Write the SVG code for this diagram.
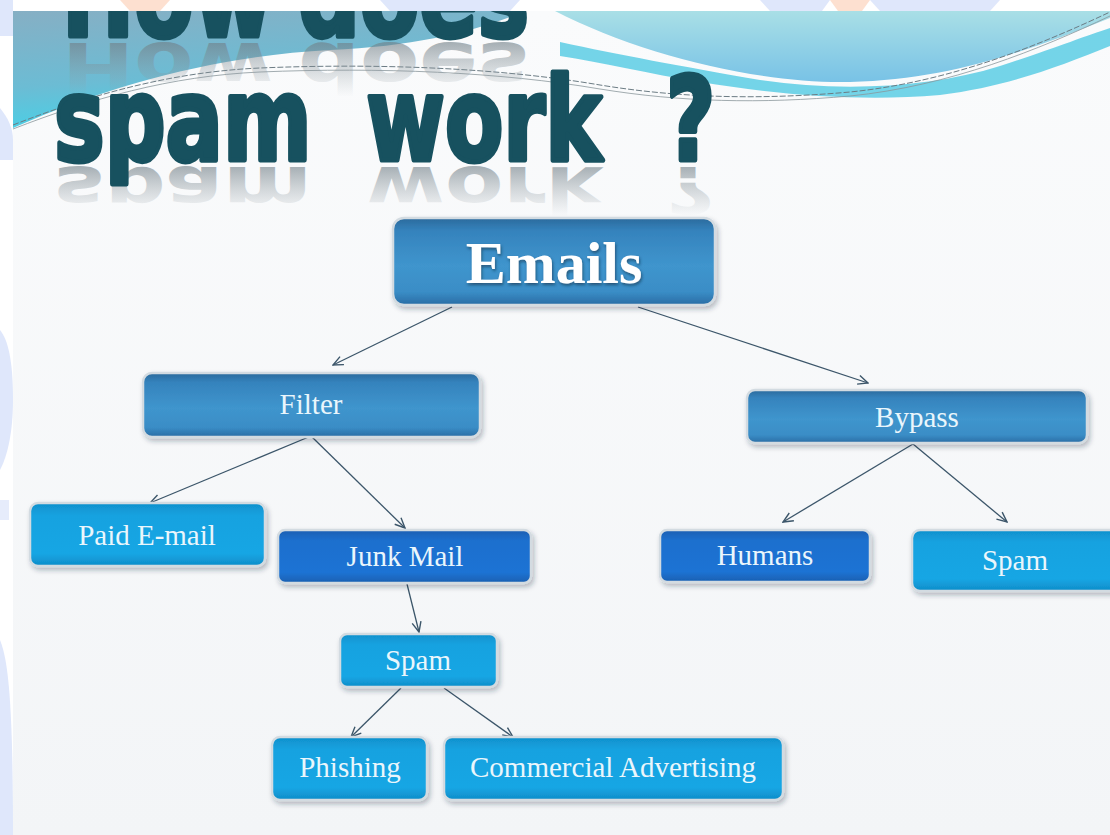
<svg xmlns="http://www.w3.org/2000/svg" width="1110" height="835" viewBox="0 0 1110 835">
<style>
.box{stroke:#d3dbe1;stroke-width:2.5;filter:url(#sh)}
.lbl{font-family:"Liberation Serif",serif;font-size:29px;fill:#eaf6fc;text-anchor:middle}
.big{font-family:"Liberation Serif",serif;font-size:60px;font-weight:bold;fill:#ffffff;text-anchor:middle;filter:url(#tsh)}
.title{font-family:"DejaVu Sans",sans-serif;font-weight:bold;font-size:115px}
.solid{fill:#17515f;stroke:#17515f;stroke-width:5;stroke-linejoin:round}
.refl{stroke:none}
.conn{fill:none;stroke:#3c566a;stroke-width:1.3;marker-end:url(#arr)}
</style>
<defs>
<filter id="sh" x="-10%" y="-20%" width="125%" height="150%">
<feDropShadow dx="2" dy="3" stdDeviation="2.5" flood-color="#203040" flood-opacity="0.3"/>
</filter>
<filter id="tsh" x="-10%" y="-20%" width="120%" height="150%">
<feDropShadow dx="1" dy="2" stdDeviation="1.5" flood-color="#0a2a40" flood-opacity="0.6"/>
</filter>
<marker id="arr" viewBox="0 0 12 12" refX="11" refY="6" markerWidth="12" markerHeight="12" markerUnits="userSpaceOnUse" orient="auto">
<path d="M1,1.5 L11,6 L1,10.5" fill="none" stroke="#3c566a" stroke-width="1.4"/>
</marker>
<linearGradient id="gMid" x1="0" y1="0" x2="0" y2="1">
<stop offset="0" stop-color="#2b6a9c"/>
<stop offset="0.15" stop-color="#3583bd"/>
<stop offset="0.55" stop-color="#3f95cd"/>
<stop offset="0.85" stop-color="#3a8dc6"/>
<stop offset="1" stop-color="#296ca4"/>
</linearGradient>
<linearGradient id="gDark" x1="0" y1="0" x2="0" y2="1">
<stop offset="0" stop-color="#1a5fb2"/>
<stop offset="0.2" stop-color="#1c6fce"/>
<stop offset="0.8" stop-color="#1e73d4"/>
<stop offset="1" stop-color="#185fb0"/>
</linearGradient>
<linearGradient id="gLight" x1="0" y1="0" x2="0" y2="1">
<stop offset="0" stop-color="#1090cc"/>
<stop offset="0.2" stop-color="#15a2e0"/>
<stop offset="0.8" stop-color="#17a6e4"/>
<stop offset="1" stop-color="#0e8cc8"/>
</linearGradient>
<linearGradient id="waveA" x1="0" y1="0" x2="0.3" y2="1">
<stop offset="0" stop-color="#86afc4"/>
<stop offset="0.6" stop-color="#6cbcd4"/>
<stop offset="1" stop-color="#45d2e8"/>
</linearGradient>
<linearGradient id="waveB" x1="0" y1="0" x2="0" y2="1">
<stop offset="0" stop-color="#a9dfe6"/>
<stop offset="1" stop-color="#78c2e6"/>
</linearGradient>
<linearGradient id="bg" x1="0" y1="0" x2="0" y2="1">
<stop offset="0" stop-color="#fafbfc"/>
<stop offset="1" stop-color="#f3f5f7"/>
</linearGradient>
<linearGradient id="refl1" gradientUnits="userSpaceOnUse" x1="0" y1="0" x2="0" y2="-90">
<stop offset="0" stop-color="#707e86" stop-opacity="0.6"/>
<stop offset="1" stop-color="#9aa4aa" stop-opacity="0"/>
</linearGradient>
</defs>

<rect x="0" y="0" width="1110" height="835" fill="#ffffff"/>
<g id="slide-background">
<rect x="13" y="11" width="1097" height="824" fill="url(#bg)"/>
<path d="M13,11 H525 C480,30 420,46 330,50 C230,55 120,80 13,128 Z" fill="url(#waveA)"/>
<path d="M555,11 H1110 V18 C1030,50 950,80 850,82 C760,84 640,55 555,11 Z" fill="url(#waveB)"/>
<path d="M560,42 C620,55 680,66 760,80 C840,92 930,88 1000,66 C1050,50 1085,36 1110,28 V46 C1060,66 1010,86 940,95 C860,102 780,95 700,82 C650,74 600,62 560,56 Z" fill="#5ccde4" opacity="0.85"/>
<path d="M13,125 C90,95 170,72 260,68 C380,63 500,68 600,85 C680,98 760,100 850,92 C950,82 1040,45 1110,12" fill="none" stroke="#6c7c84" stroke-width="1" stroke-dasharray="6 2"/>
<path d="M13,129 C90,99 170,76 260,72 C380,67 500,72 600,89 C680,102 760,104 850,96 C950,86 1040,49 1110,16" fill="none" stroke="#8a979c" stroke-width="0.8"/>
</g>

<g id="title">
<text class="title refl" transform="translate(62,43) scale(0.75,-0.6)" fill="url(#refl1)"><tspan x="0">How</tspan> <tspan x="315">does</tspan></text>
<text class="title solid" transform="translate(62,36) scale(0.75,1)"><tspan x="0">How</tspan> <tspan x="315">does</tspan></text>
<text class="title refl" transform="translate(54,167) scale(0.74,-0.55)" fill="url(#refl1)"><tspan x="0">spam</tspan> <tspan x="422">work</tspan> <tspan x="827">?</tspan></text>
<text class="title solid" transform="translate(54,160) scale(0.74,1)"><tspan x="0">spam</tspan> <tspan x="422">work</tspan> <tspan x="827">?</tspan></text>
</g>

<g id="watermark">
<rect x="0" y="0" width="1110" height="11" fill="#ffffff"/>
<rect x="0" y="0" width="13" height="835" fill="#ffffff"/>
<path d="M0,0 H13 V36 H0 Z" fill="#dfe7fb"/>
<path d="M0,108 C8,118 13,128 13,140 V160 H0 Z" fill="#dfe7fb"/>
<path d="M0,330 C8,340 13,360 13,400 C13,430 8,455 0,470 Z" fill="#dfe7fb"/>
<path d="M0,500 H9 V520 H0 Z" fill="#e6ecfb"/>
<path d="M0,640 C8,660 13,700 13,835 H0 Z" fill="#dfe7fb"/>
<path d="M760,0 H830 L822,11 H770 Z" fill="#dfe7fb"/>
<path d="M830,0 H870 L862,11 H838 Z" fill="#fde0d0"/>
<path d="M870,0 H1000 L990,11 H880 Z" fill="#dfe7fb"/>
<path d="M120,0 H170 L160,11 H130 Z" fill="#fde0d0"/>
<path d="M380,0 H520 L510,11 H390 Z" fill="#dfe7fb"/>
</g>

<g id="connectors">
<line class="conn" x1="452" y1="307" x2="333" y2="365"/>
<line class="conn" x1="638" y1="307" x2="868" y2="383"/>
<line class="conn" x1="311" y1="436" x2="150" y2="503"/>
<line class="conn" x1="311" y1="436" x2="405" y2="528"/>
<line class="conn" x1="407" y1="584" x2="419" y2="632"/>
<line class="conn" x1="401" y1="688" x2="351" y2="737"/>
<line class="conn" x1="444" y1="688" x2="513" y2="737"/>
<line class="conn" x1="913" y1="444" x2="783" y2="522"/>
<line class="conn" x1="913" y1="444" x2="1007" y2="522"/>
</g>

<g id="node-emails">
<rect class="box" x="393" y="218" width="322" height="87" rx="11" fill="url(#gMid)"/>
<text class="big" x="554" y="283">Emails</text>
</g>
<g id="node-filter">
<rect class="box" x="143" y="373" width="337" height="64" rx="9" fill="url(#gMid)"/>
<text class="lbl" x="311" y="414">Filter</text>
</g>
<g id="node-bypass">
<rect class="box" x="747" y="390" width="340" height="53" rx="8" fill="url(#gMid)"/>
<text class="lbl" x="917" y="427">Bypass</text>
</g>
<g id="node-paid-email">
<rect class="box" x="30" y="503" width="235" height="63" rx="8" fill="url(#gLight)"/>
<text class="lbl" x="147" y="545">Paid E-mail</text>
</g>
<g id="node-junk-mail">
<rect class="box" x="278" y="530" width="253" height="53" rx="7" fill="url(#gDark)"/>
<text class="lbl" x="405" y="566">Junk Mail</text>
</g>
<g id="node-humans">
<rect class="box" x="660" y="530" width="210" height="52" rx="7" fill="url(#gDark)"/>
<text class="lbl" x="765" y="565">Humans</text>
</g>
<g id="node-spam-bypass">
<rect class="box" x="912" y="530" width="220" height="61" rx="8" fill="url(#gLight)"/>
<text class="lbl" x="1015" y="570">Spam</text>
</g>
<g id="node-spam-junk">
<rect class="box" x="340" y="634" width="157" height="53" rx="7" fill="url(#gLight)"/>
<text class="lbl" x="418" y="670">Spam</text>
</g>
<g id="node-phishing">
<rect class="box" x="272" y="737" width="155" height="63" rx="8" fill="url(#gLight)"/>
<text class="lbl" x="350" y="777">Phishing</text>
</g>
<g id="node-commercial">
<rect class="box" x="444" y="737" width="339" height="63" rx="8" fill="url(#gLight)"/>
<text class="lbl" x="613" y="777">Commercial Advertising</text>
</g>
</svg>
